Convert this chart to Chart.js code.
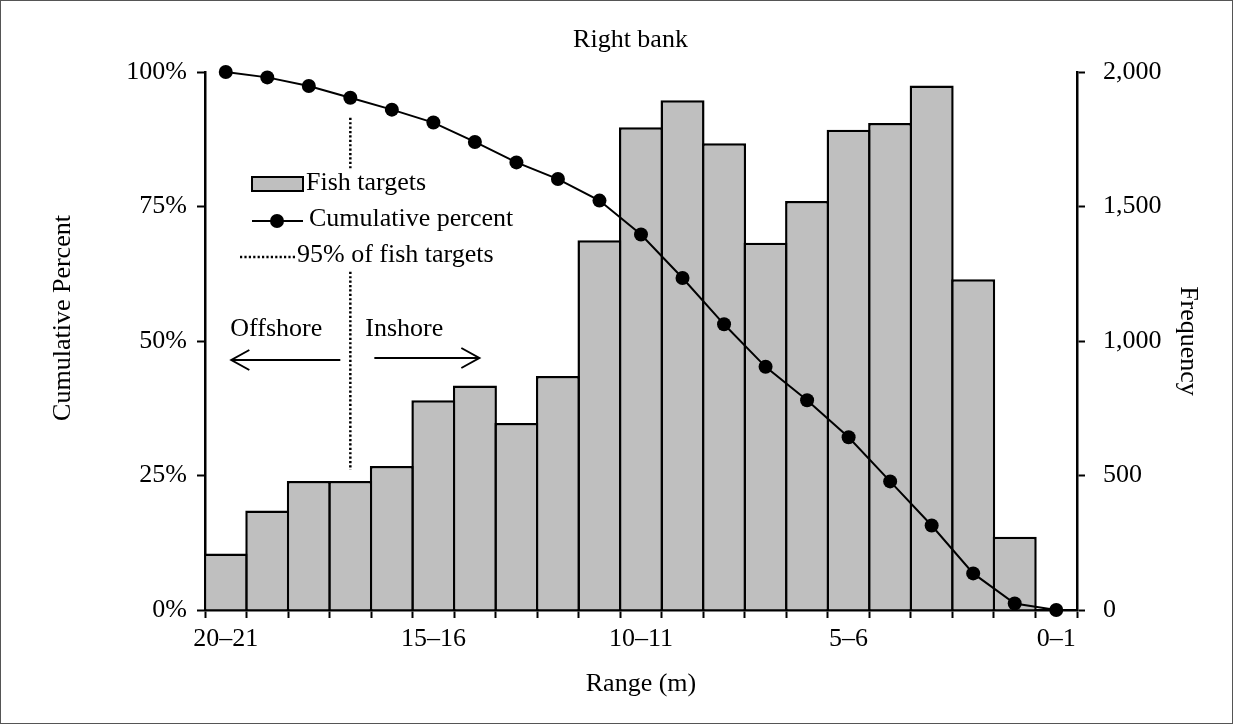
<!DOCTYPE html>
<html>
<head>
<meta charset="utf-8">
<script src="https://cdn.jsdelivr.net/npm/chart.js@4.4.1/dist/chart.umd.min.js"></script>
<style>
  html, body { margin: 0; padding: 0; background: #fff; }
  #wrap { width: 1233px; height: 724px; }
</style>
</head>
<body>
<div id="wrap"><canvas id="c" width="1233" height="724"></canvas></div>
<script>
// Range classes, farthest from the bank first
const categories = ['20–21', '19–20', '18–19', '17–18', '16–17', '15–16', '14–15', '13–14', '12–13', '11–12',
                    '10–11', '9–10', '8–9', '7–8', '6–7', '5–6', '4–5', '3–4', '2–3', '1–2', '0–1'];
// Fish target counts per range class
const frequency = [210, 370, 480, 480, 535, 780, 835, 695, 870, 1375,
                   1795, 1895, 1735, 1365, 1520, 1785, 1810, 1950, 1230, 272, 0];
// Cumulative percent of targets
const cumulativePercent = [100, 99.0, 97.4, 95.2, 93.0, 90.6, 87.0, 83.2, 80.1, 76.1,
                           69.8, 61.7, 53.1, 45.2, 39.0, 32.1, 23.9, 15.7, 6.8, 1.2, 0];
// Labelled range classes on the x axis
const xTickLabels = ['20–21', '15–16', '10–11', '5–6', '0–1'];
const percentTicks = [0, 25, 50, 75, 100];
const frequencyTicks = [0, 500, 1000, 1500, 2000];
// 95% of fish targets marker
const markerCategory = '17–18';
const markerTop = 91.5;
const markerBottom = 26;

const FONT = '"Liberation Serif", "Times New Roman", serif';
const FS = 26;
const barBorder = 2.5;

const pageFrame = {
  id: 'pageFrame',
  beforeDraw(chart) {
    const ctx = chart.ctx;
    ctx.save();
    ctx.fillStyle = '#fff';
    ctx.fillRect(0, 0, chart.width, chart.height);
    ctx.strokeStyle = '#555';
    ctx.lineWidth = 1;
    ctx.strokeRect(0.5, 0.5, chart.width - 1, chart.height - 1);
    ctx.restore();
  },
  afterDraw(chart) {
    // left axis title, set a little above the middle of the axis
    const ctx = chart.ctx;
    ctx.save();
    ctx.translate(63, 318);
    ctx.rotate(-Math.PI / 2);
    ctx.font = FS + 'px ' + FONT;
    ctx.fillStyle = '#000';
    ctx.textAlign = 'center';
    ctx.textBaseline = 'middle';
    ctx.fillText('Cumulative Percent', 0, 0);
    ctx.restore();
  }
};

const annotations = {
  id: 'annotations',
  beforeDatasetsDraw(chart) {
    const ctx = chart.ctx;
    const ca = chart.chartArea;
    const xs = chart.scales.x, ys = chart.scales.y;
    const mx = xs.getPixelForValue(categories.indexOf(markerCategory));
    ctx.save();

    // dotted marker line
    ctx.strokeStyle = '#000';
    ctx.lineWidth = 2.5;
    ctx.setLineDash([2.2, 2.2]);
    ctx.beginPath();
    ctx.moveTo(mx, ys.getPixelForValue(markerTop));
    ctx.lineTo(mx, ys.getPixelForValue(markerBottom));
    ctx.stroke();
    ctx.setLineDash([]);

    // legend block
    const lx = ca.left, ly = ca.top;
    ctx.fillStyle = '#fff';
    ctx.fillRect(lx + 30, ly + 98, 290, 100);

    ctx.font = FS + 'px ' + FONT;
    ctx.textAlign = 'left';
    ctx.textBaseline = 'alphabetic';

    // bars entry
    ctx.fillStyle = '#bfbfbf';
    ctx.fillRect(lx + 47, ly + 105, 51, 14);
    ctx.strokeStyle = '#000';
    ctx.lineWidth = 2;
    ctx.strokeRect(lx + 47, ly + 105, 51, 14);
    ctx.fillStyle = '#000';
    ctx.fillText('Fish targets', lx + 101, ly + 118);

    // line entry
    ctx.beginPath();
    ctx.moveTo(lx + 47, ly + 149);
    ctx.lineTo(lx + 98, ly + 149);
    ctx.stroke();
    ctx.beginPath();
    ctx.arc(lx + 72, ly + 149, 7, 0, Math.PI * 2);
    ctx.fill();
    ctx.fillText('Cumulative percent', lx + 104, ly + 154);

    // dotted entry
    ctx.lineWidth = 2.5;
    ctx.setLineDash([2.2, 2.2]);
    ctx.beginPath();
    ctx.moveTo(lx + 35, ly + 185);
    ctx.lineTo(lx + 91, ly + 185);
    ctx.stroke();
    ctx.setLineDash([]);
    ctx.fillText('95% of fish targets', lx + 92, ly + 190);

    // offshore / inshore arrows
    ctx.fillText('Offshore', mx - 120, ly + 264);
    ctx.fillText('Inshore', mx + 15, ly + 264);
    ctx.lineWidth = 2;
    const ay1 = ly + 288, ay2 = ly + 286;
    ctx.beginPath();
    ctx.moveTo(mx - 10, ay1);
    ctx.lineTo(mx - 119, ay1);
    ctx.moveTo(mx - 101, ay1 - 10);
    ctx.lineTo(mx - 119, ay1);
    ctx.lineTo(mx - 101, ay1 + 10);
    ctx.moveTo(mx + 24, ay2);
    ctx.lineTo(mx + 129, ay2);
    ctx.moveTo(mx + 111, ay2 - 10);
    ctx.lineTo(mx + 129, ay2);
    ctx.lineTo(mx + 111, ay2 + 10);
    ctx.stroke();

    ctx.restore();
  }
};

const axisGrid = {
  display: true,
  drawOnChartArea: false,
  drawTicks: true,
  tickLength: 8,
  tickWidth: 2,
  tickColor: '#000',
  color: '#000'
};

new Chart(document.getElementById('c'), {
  data: {
    labels: categories,
    datasets: [
      {
        type: 'line',
        label: 'Cumulative percent',
        data: cumulativePercent,
        yAxisID: 'y',
        order: 0,
        borderColor: '#000',
        borderWidth: 2,
        pointRadius: 7,
        pointBackgroundColor: '#000',
        pointBorderColor: '#000',
        pointBorderWidth: 0,
        tension: 0,
        clip: false
      },
      {
        type: 'bar',
        label: 'Fish targets',
        data: frequency,
        yAxisID: 'y1',
        order: 1,
        backgroundColor: '#bfbfbf',
        borderColor: '#000',
        borderWidth: barBorder,
        borderSkipped: 'start',
        categoryPercentage: 1,
        barPercentage: 1 + barBorder / (872 / categories.length)
      }
    ]
  },
  options: {
    responsive: false,
    animation: false,
    devicePixelRatio: 1,
    layout: { padding: { left: 28, right: 0, top: 0, bottom: 0 } },
    plugins: {
      legend: { display: false },
      tooltip: { enabled: false },
      title: {
        display: true,
        text: 'Right bank',
        color: '#000',
        font: { family: FONT, size: FS, weight: 'normal', lineHeight: 1.2 },
        padding: { top: 25, bottom: 15.8 }
      }
    },
    scales: {
      x: {
        type: 'category',
        offset: true,
        grid: Object.assign({}, axisGrid, { offset: true }),
        border: { display: true, color: '#000', width: 2.5 },
        ticks: {
          autoSkip: false,
          maxRotation: 0,
          padding: 6,
          color: '#000',
          font: { family: FONT, size: FS },
          callback: function (v) {
            const l = this.getLabelForValue(v);
            return xTickLabels.includes(l) ? l : '';
          }
        },
        title: {
          display: true,
          text: 'Range (m)',
          color: '#000',
          font: { family: FONT, size: FS },
          padding: { top: 0, bottom: 24 }
        },
        afterFit(s) { s.height = 114; }
      },
      y: {
        position: 'left',
        min: 0,
        max: 100,
        grid: axisGrid,
        border: { display: true, color: '#000', width: 2.5 },
        afterBuildTicks(s) { s.ticks = percentTicks.map(v => ({ value: v })); },
        ticks: {
          padding: 10,
          color: '#000',
          font: { family: FONT, size: FS },
          callback: v => v + '%'
        },
        title: { display: false },
        afterFit(s) { s.width = 177; }
      },
      y1: {
        position: 'right',
        min: 0,
        max: 2000,
        grid: axisGrid,
        border: { display: true, color: '#000', width: 2.5 },
        afterBuildTicks(s) { s.ticks = frequencyTicks.map(v => ({ value: v })); },
        ticks: {
          padding: 18,
          color: '#000',
          font: { family: FONT, size: FS },
          callback: v => v.toLocaleString('en-US')
        },
        title: {
          display: true,
          text: 'Frequency',
          color: '#000',
          font: { family: FONT, size: FS },
          padding: { top: 30, bottom: 0 }
        },
        afterFit(s) { s.width = 156; }
      }
    }
  },
  plugins: [pageFrame, annotations]
});
</script>
</body>
</html>
